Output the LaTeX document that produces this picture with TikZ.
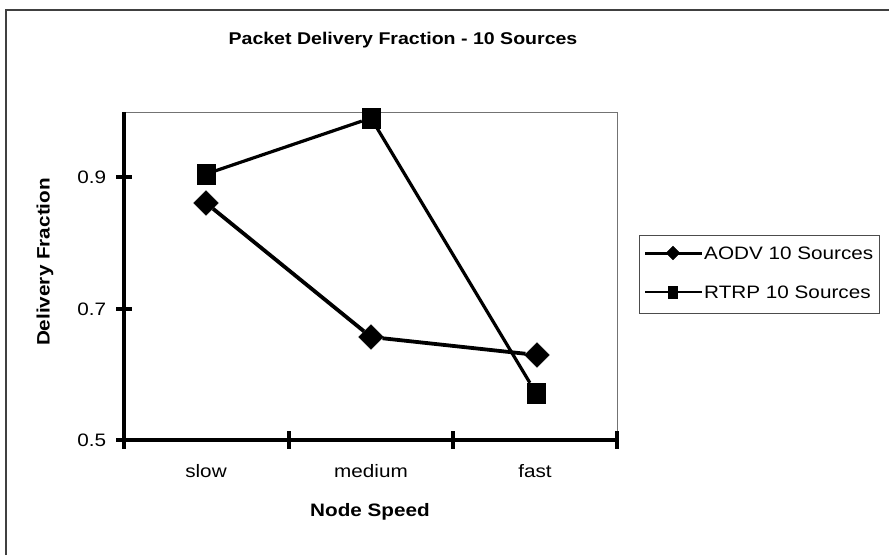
\documentclass[tikz,border=0pt]{standalone}
\usepackage{fontspec}
\setmainfont{Liberation Sans}[FakeStretch=1.15]
\usepackage{tikz}
\usetikzlibrary{shapes}

\begin{document}
\begin{tikzpicture}[x=1pt,y=-1pt,
  dia/.style={draw,diamond,fill=black,inner sep=0pt,minimum size=25pt},
  sq/.style={draw,rectangle,fill=black,inner sep=0pt,minimum width=18pt,minimum height=20pt},
  txt/.style={font=\fontsize{18}{21}\selectfont,inner sep=0pt},
  ttl/.style={font=\bfseries\fontsize{18}{21}\selectfont,inner sep=0pt}]

\useasboundingbox (0,0) rectangle (889,555);
\draw [line width=1.3pt,black!75] (6,555) -- (6,10) -- (889,10);

\node (title) at (403,40)[ttl,font=\bfseries\fontsize{17}{20}\selectfont] {Packet Delivery Fraction - 10 Sources};

% plot area
\coordinate (O) at (124,440);
\coordinate (YT) at (124,112);
\coordinate (XR) at (617,440);
\coordinate (TR) at (617,112);
\draw [line width=1pt,black!55] (YT) -- (TR) -- (XR);
\draw [line width=4pt] (YT) -- (O) -- (XR);
\foreach \y/\v in {440/0.5,309/0.7,177/0.9}
  \draw [line width=3.5pt] (116,\y) -- (132,\y) node[txt,anchor=east,at start,xshift=-8pt] {\v};
\foreach \x in {124,289,453,617}
  \draw [line width=3.5pt] (\x,431) -- (\x,449);

\node (slow) at (206,471)[txt] {slow};
\node (medium) at (371,471)[txt] {medium};
\node (fast) at (535,471)[txt] {fast};
\node (xlabel) at (370,512)[ttl] {Node Speed};
\node (ylabel) at (45,262)[ttl,rotate=90] {Delivery Fraction};

% AODV
\node (A1) at (206,203)[dia] {};
\node (A2) at (371,337)[dia] {};
\node (A3) at (537,355)[dia] {};
\draw [line width=3.8pt] (A1) -- (A2) -- (A3);

% RTRP
\node (R1) at (206,174)[sq] {};
\node (R2) at (371,118)[sq] {};
\node (R3) at (536,393)[sq] {};
\draw [line width=3.2pt] (R1) -- (R2) -- (R3);

% legend
\node (legend) at (759,274)[draw,line width=1pt,black!70,minimum width=240pt,minimum height=78pt] {};
\coordinate (LA1) at (645,253);
\coordinate (LA2) at (702,253);
\coordinate (LR1) at (645,292);
\coordinate (LR2) at (702,292);
\draw [line width=3pt] (LA1) -- (LA2);
\draw [line width=2.6pt] (LR1) -- (LR2);
\node (LA) at (673,253)[dia,minimum size=14pt] {};
\node (LR) at (673,292)[sq,minimum width=9pt,minimum height=12pt] {};
\node (tA) at (704,253)[txt,anchor=west] {AODV 10 Sources};
\node (tR) at (704,292)[txt,anchor=west] {RTRP 10 Sources};
\end{tikzpicture}
\end{document}
